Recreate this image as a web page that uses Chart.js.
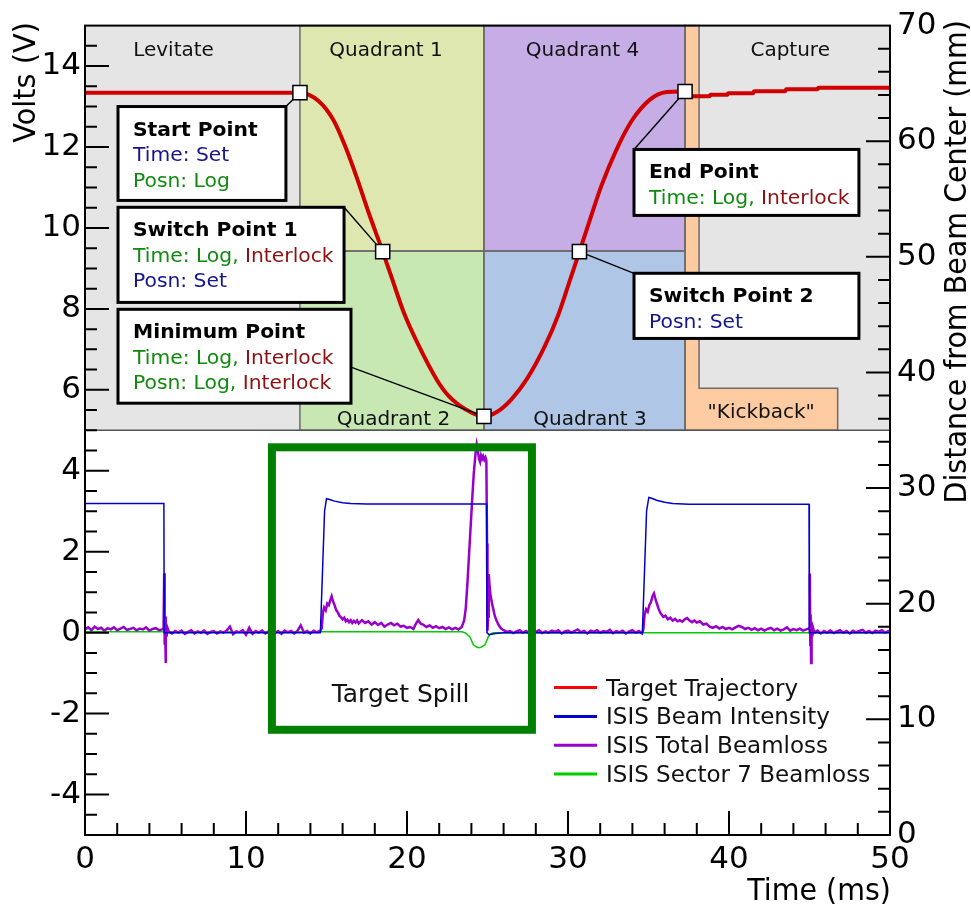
<!DOCTYPE html>
<html lang="en">
<head>
<meta charset="UTF-8">
<title>Target trajectory and ISIS beam</title>
<script src="https://cdn.jsdelivr.net/npm/chart.js@4"></script>
<style>
    html, body { margin: 0; padding: 0; background: #fff; }
    canvas { display: block; }
</style>
</head>
<body>
<canvas id="chart" width="971" height="905"></canvas>
<script>
// ---- values ----
// target trajectory: [time ms, distance from beam centre mm] (right axis)
const trajectory = [
    [0, 64.2], [13.35, 64.2], [14.49, 63.5], [15.42, 61.85], [16.15, 59.6], [16.87, 56.9],
    [17.6, 53.9], [18.49, 50.45], [19.05, 48.2], [19.77, 45.3], [20.7, 42.4], [21.84, 39.4],
    [22.57, 38.0], [23.71, 36.75], [24.78, 36.2], [25.6, 36.6], [26.5, 37.7], [27.43, 39.4],
    [28.57, 42.3], [29.4, 45.0], [30.02, 47.55], [30.71, 50.45], [31.37, 53.25], [32.09, 56.2],
    [33.02, 59.3], [33.95, 61.75], [35.09, 63.6], [36.13, 64.25], [36.96, 64.3], [37.27, 64.3],
    [37.5, 64.1], [37.78, 63.9], [38.8, 63.9], [38.85, 64.02], [39.9, 64.02], [39.95, 64.15],
    [41.5, 64.15], [41.55, 64.33], [43.5, 64.33], [43.55, 64.5], [45.5, 64.5], [45.55, 64.62],
    [50, 64.62]
];

// control points on the trajectory
const pointNames = ['Start Point', 'Switch Point 1', 'Minimum Point', 'Switch Point 2', 'End Point'];
const pointTime = [13.35, 18.49, 24.78, 30.71, 37.27];
const pointPos = [64.2, 50.45, 36.2, 50.45, 64.3];
const pointNotes = [
    [[['Time: Set', 'set']], [['Posn: Log', 'log']]],
    [[['Time: Log, ', 'log'], ['Interlock', 'lock']], [['Posn: Set', 'set']]],
    [[['Time: Log, ', 'log'], ['Interlock', 'lock']], [['Posn: Log, ', 'log'], ['Interlock', 'lock']]],
    [[['Posn: Set', 'set']]],
    [[['Time: Log, ', 'log'], ['Interlock', 'lock']]]
];

// ISIS beam intensity [ms, V]
const beamIntensity = [
    [0, 3.19], [4.9, 3.19], [4.92, 0], [14.62, 0], [14.75, 1.5], [14.88, 3.0], [15.0, 3.31],
    [15.2, 3.29], [15.5, 3.25], [16.0, 3.21], [16.5, 3.19], [17.5, 3.18], [24.95, 3.18],
    [24.97, 0], [25.1, -0.05], [25.5, -0.02], [26.0, 0], [34.62, 0], [34.75, 1.5],
    [34.88, 3.0], [35.02, 3.34], [35.2, 3.32], [35.5, 3.27], [36.0, 3.22], [36.5, 3.19],
    [37.5, 3.17], [44.97, 3.17], [44.99, 0], [50, 0]
];

// ISIS total beamloss [ms, V]
const totalLoss = [
    [0, 0.08], [0.2, 0.13], [0.4, 0.06], [0.6, 0.15], [0.8, 0.09], [1.0, 0.12], [1.2, 0.05],
    [1.4, 0.11], [1.6, 0.08], [1.8, 0.13], [2.0, 0.06], [2.2, 0.10], [2.4, 0.14], [2.6, 0.07],
    [2.8, 0.09], [3.0, 0.12], [3.2, 0.06], [3.4, 0.10], [3.6, 0.08], [3.8, 0.13], [4.0, 0.05],
    [4.2, 0.09], [4.4, 0.11], [4.6, 0.06], [4.8, 0.08],
    [4.88, 0.10], [4.92, 1.47], [4.95, -0.30], [4.97, 0.40], [5.0, -0.75], [5.03, 0.25],
    [5.07, -0.10], [5.12, 0.12],
    [5.2, 0.03], [5.4, -0.02], [5.6, 0.04], [5.8, 0.00], [6.0, 0.05], [6.2, -0.03], [6.4, 0.02],
    [6.6, 0.06], [6.8, -0.02], [7.0, 0.03], [7.2, 0.00], [7.4, 0.05], [7.6, -0.03], [7.8, 0.02],
    [8.0, 0.04], [8.2, -0.02], [8.4, 0.03], [8.6, 0.00], [8.8, 0.05], [9.0, 0.15], [9.2, -0.04],
    [9.4, 0.03], [9.6, 0.01], [9.8, 0.06], [10.0, -0.05], [10.2, 0.12], [10.4, -0.03],
    [10.6, 0.04], [10.8, 0.00], [11.0, 0.05], [11.2, -0.02], [11.4, 0.03], [11.6, 0.06],
    [11.8, -0.01], [12.0, 0.04], [12.2, -0.03], [12.4, 0.05], [12.6, 0.01], [12.8, 0.04],
    [13.0, -0.02], [13.2, 0.05], [13.4, 0.18], [13.6, 0.00], [13.8, 0.04], [14.0, -0.02],
    [14.2, 0.05], [14.4, 0.01], [14.6, 0.04],
    [14.7, 0.10], [14.78, 0.50], [14.85, 0.62], [14.95, 0.55], [15.05, 0.72], [15.15, 0.68],
    [15.25, 0.82], [15.32, 0.90], [15.4, 0.78], [15.5, 0.68], [15.6, 0.56], [15.7, 0.50],
    [15.8, 0.42], [15.9, 0.38], [16.0, 0.33], [16.1, 0.37], [16.2, 0.28], [16.3, 0.32],
    [16.4, 0.26], [16.5, 0.31], [16.6, 0.24], [16.7, 0.29], [16.8, 0.25], [16.9, 0.30],
    [17.0, 0.23], [17.2, 0.31], [17.4, 0.24], [17.6, 0.28], [17.8, 0.20], [18.0, 0.26],
    [18.2, 0.19], [18.4, 0.24], [18.6, 0.15], [18.8, 0.20], [19.0, 0.24], [19.2, 0.18],
    [19.4, 0.22], [19.6, 0.15], [19.8, 0.17], [20.0, 0.12], [20.2, 0.14], [20.4, 0.09],
    [20.55, 0.22], [20.7, 0.31], [20.85, 0.22], [21.0, 0.20], [21.2, 0.14], [21.4, 0.18],
    [21.6, 0.12], [21.8, 0.16], [22.0, 0.11], [22.2, 0.14], [22.4, 0.09], [22.6, 0.13],
    [22.8, 0.08], [23.0, 0.12], [23.2, 0.08], [23.4, 0.14],
    [23.55, 0.30], [23.65, 0.60], [23.75, 1.20], [23.85, 1.90], [23.95, 2.60], [24.05, 3.30],
    [24.15, 3.95], [24.25, 4.40], [24.33, 4.65], [24.4, 4.50], [24.47, 4.30], [24.54, 4.22],
    [24.6, 4.38], [24.67, 4.30], [24.73, 4.36], [24.8, 4.27], [24.87, 4.33], [24.93, 4.25],
    [24.97, 2.20], [25.0, 0.05], [25.04, 0.40], [25.08, 1.45], [25.12, 1.20], [25.18, 0.95],
    [25.25, 0.78], [25.35, 0.60], [25.45, 0.42], [25.56, 0.30], [25.7, 0.18], [25.85, 0.10],
    [26.0, 0.06], [26.2, 0.02],
    [26.4, 0.04], [26.6, -0.01], [26.8, 0.03], [27.0, 0.06], [27.2, 0.00], [27.4, 0.04],
    [27.6, -0.02], [27.8, 0.05], [28.0, 0.02], [28.2, 0.06], [28.4, -0.01], [28.6, 0.03],
    [28.8, 0.00], [29.0, 0.05], [29.2, 0.02], [29.4, 0.06], [29.6, -0.02], [29.8, 0.03],
    [30.0, 0.05], [30.2, 0.00], [30.4, 0.04], [30.6, 0.08], [30.8, 0.01], [31.0, 0.04],
    [31.2, -0.02], [31.4, 0.05], [31.6, 0.02], [31.8, 0.06], [32.0, 0.00], [32.2, 0.04],
    [32.4, 0.02], [32.6, 0.07], [32.8, -0.01], [33.0, 0.04], [33.2, 0.01], [33.4, 0.05],
    [33.6, -0.02], [33.8, 0.03], [34.0, 0.06], [34.2, 0.00], [34.4, 0.04], [34.6, -0.02],
    [34.68, 0.08], [34.76, 0.45], [34.85, 0.58], [34.95, 0.52], [35.05, 0.68], [35.15, 0.75],
    [35.25, 0.90], [35.34, 0.97], [35.42, 0.85], [35.52, 0.72], [35.62, 0.60], [35.72, 0.50],
    [35.82, 0.44], [35.92, 0.39], [36.05, 0.42], [36.2, 0.33], [36.35, 0.37], [36.5, 0.30],
    [36.65, 0.34], [36.8, 0.28], [36.95, 0.31], [37.1, 0.27], [37.25, 0.33], [37.4, 0.36],
    [37.55, 0.30], [37.7, 0.26], [37.85, 0.30], [38.0, 0.25], [38.2, 0.28], [38.4, 0.20],
    [38.6, 0.22], [38.8, 0.15], [39.0, 0.12], [39.2, 0.16], [39.4, 0.10], [39.6, 0.14],
    [39.8, 0.09], [40.0, 0.12], [40.2, 0.08], [40.4, 0.13], [40.6, 0.17], [40.8, 0.14],
    [41.0, 0.09], [41.2, 0.12], [41.4, 0.07], [41.6, 0.11], [41.8, 0.06], [42.0, 0.10],
    [42.2, 0.05], [42.4, 0.09], [42.6, 0.12], [42.8, 0.06], [43.0, 0.10], [43.2, 0.05],
    [43.4, 0.08], [43.6, 0.13], [43.8, 0.05], [44.0, 0.09], [44.2, 0.06], [44.4, 0.10],
    [44.6, 0.05], [44.8, 0.08], [44.95, 0.10],
    [45.0, 0.12], [45.02, 1.46], [45.05, -0.30], [45.07, 0.45], [45.1, -0.75], [45.13, 0.25],
    [45.17, -0.10], [45.22, 0.12],
    [45.3, 0.00], [45.5, 0.05], [45.7, -0.02], [45.9, 0.04], [46.1, 0.00], [46.3, 0.05],
    [46.5, -0.01], [46.7, 0.03], [46.9, 0.06], [47.1, 0.00], [47.3, 0.04], [47.5, -0.02],
    [47.7, 0.05], [47.9, 0.01], [48.1, 0.04], [48.3, 0.07], [48.5, 0.00], [48.7, 0.04],
    [48.9, -0.01], [49.1, 0.05], [49.3, 0.02], [49.5, 0.06], [49.7, 0.00], [49.9, 0.04],
    [50.0, 0.02]
];

// ISIS sector 7 beamloss [ms, V]
const sectorLoss = [
    [0, 0.02], [23.4, 0.02], [23.6, 0.0], [23.9, -0.1], [24.12, -0.3], [24.3, -0.35],
    [24.43, -0.37], [24.6, -0.36], [24.85, -0.3], [25.0, -0.15], [25.05, -0.1], [25.2, -0.03],
    [25.36, 0.0], [50, 0.0]
];

const seriesLabels = ['Target Trajectory', 'ISIS Beam Intensity', 'ISIS Total Beamloss', 'ISIS Sector 7 Beamloss'];
const timeTicks = [0, 10, 20, 30, 40, 50];
const voltTicks = [-4, -2, 0, 2, 4, 6, 8, 10, 12, 14];
const mmTicks = [0, 10, 20, 30, 40, 50, 60, 70];

// ---- drawing helpers ----
const FONT = "'DejaVu Sans'";
const noteColours = { set: '#15158c', log: '#0e8a0e', lock: '#8e1111' };

function txt(ctx, s, x, y, o) {
    ctx.save();
    ctx.translate(x, y);
    if (o.rot) ctx.rotate(o.rot);
    ctx.scale(o.sx || 1, 1);
    ctx.font = o.font;
    ctx.fillStyle = o.color || '#000';
    ctx.textAlign = o.align || 'left';
    ctx.textBaseline = 'alphabetic';
    ctx.fillText(s, 0, 0);
    ctx.restore();
}

const toXY = pairs => pairs.map(([x, y]) => ({ x, y }));

// phases of the target cycle, in ms and volts of the top panel
const phases = [
    { name: 'Levitate', t0: 0, t1: 13.35, v0: 5, v1: 15, fill: '#e5e5e5', lt: 5.5, lv: 14.26 },
    { name: 'Capture', t0: 38.14, t1: 50, v0: 5, v1: 15, fill: '#e5e5e5', lt: 43.8, lv: 14.26 },
    { name: 'Quadrant 1', t0: 13.35, t1: 24.78, v0: 9.43, v1: 15, fill: '#dee7b0', lt: 18.7, lv: 14.26 },
    { name: 'Quadrant 2', t0: 13.35, t1: 24.78, v0: 5, v1: 9.43, fill: '#c7e7b3', lt: 19.16, lv: 5.12 },
    { name: 'Quadrant 4', t0: 24.78, t1: 37.27, v0: 9.43, v1: 15, fill: '#c6ade5', lt: 30.9, lv: 14.26 },
    { name: 'Quadrant 3', t0: 24.78, t1: 37.27, v0: 5, v1: 9.43, fill: '#afc6e7', lt: 31.37, lv: 5.12 }
];
const kickback = [[37.27, 15], [38.14, 15], [38.14, 6.04], [46.75, 6.04], [46.75, 5], [37.27, 5]];

// annotation boxes (ms / volts) and where their leader line starts
const noteBoxes = [
    { t0: 2.05, t1: 12.48, v0: 13.0, v1: 10.68, at: [12.48, 13.0] },
    { t0: 2.05, t1: 16.09, v0: 10.51, v1: 8.16, at: [16.09, 10.51] },
    { t0: 2.05, t1: 16.52, v0: 7.99, v1: 5.67, at: [16.52, 6.56] },
    { t0: 34.1, t1: 48.07, v0: 8.88, v1: 7.27, at: [34.1, 8.88] },
    { t0: 34.1, t1: 48.07, v0: 11.94, v1: 10.31, at: [34.1, 11.94] }
];

const decor = {
    id: 'decor',
    beforeDraw(chart) {
        const ctx = chart.ctx;
        ctx.save();
        ctx.fillStyle = '#fff';
        ctx.fillRect(0, 0, chart.width, chart.height);
        ctx.restore();
    },
    beforeDatasetsDraw(chart) {
        const { ctx, chartArea: a, scales: { x, y } } = chart;
        const X = t => x.getPixelForValue(t), Y = v => y.getPixelForValue(v);
        ctx.save();
        phases.forEach(p => {
            ctx.fillStyle = p.fill;
            ctx.fillRect(X(p.t0), Y(p.v1), X(p.t1) - X(p.t0), Y(p.v0) - Y(p.v1));
        });
        ctx.beginPath();
        kickback.forEach(([t, v], i) => i ? ctx.lineTo(X(t), Y(v)) : ctx.moveTo(X(t), Y(v)));
        ctx.closePath();
        ctx.fillStyle = '#fdcba1';
        ctx.fill();
        ctx.lineWidth = 1.5;
        ctx.strokeStyle = '#6b6b6b';
        ctx.stroke();
        phases.slice(2).forEach(p => {
            ctx.strokeRect(X(p.t0), Y(p.v1), X(p.t1) - X(p.t0), Y(p.v0) - Y(p.v1));
        });
        ctx.strokeStyle = '#555';
        ctx.beginPath();
        ctx.moveTo(a.left, Y(5));
        ctx.lineTo(a.right, Y(5));
        ctx.stroke();
        phases.forEach(p => {
            txt(ctx, p.name, X(p.lt), Y(p.lv), { font: '20px ' + FONT, align: 'center', color: '#111' });
        });
        txt(ctx, '"Kickback"', X(42.0), Y(5.3), { font: '20px ' + FONT, align: 'center', color: '#111' });
        ctx.restore();
    },
    afterDatasetDraw(chart, args) {
        // leader lines sit above the trajectory but under the point markers
        if (args.index !== 0) return;
        const { ctx, scales: { x, y, y2 } } = chart;
        ctx.save();
        ctx.strokeStyle = '#000';
        ctx.lineWidth = 1.4;
        noteBoxes.forEach((b, i) => {
            const x0 = x.getPixelForValue(b.at[0]), y0 = y.getPixelForValue(b.at[1]);
            const x1 = x.getPixelForValue(pointTime[i]), y1 = y2.getPixelForValue(pointPos[i]);
            ctx.beginPath();
            ctx.moveTo(x0, y0);
            ctx.lineTo(x1, y1);
            ctx.stroke();
        });
        ctx.restore();
    },
    afterDatasetsDraw(chart) {
        const { ctx, chartArea: a, scales: { x, y } } = chart;
        const X = t => x.getPixelForValue(t), Y = v => y.getPixelForValue(v);
        const noteFont = '20.3px ' + FONT;
        ctx.save();
        // annotation boxes
        noteBoxes.forEach((b, i) => {
            const bx = X(b.t0), by = Y(b.v0), bw = X(b.t1) - bx, bh = Y(b.v1) - by;
            ctx.fillStyle = '#fff';
            ctx.fillRect(bx, by, bw, bh);
            ctx.lineWidth = 3;
            ctx.strokeStyle = '#000';
            ctx.strokeRect(bx, by, bw, bh);
            const tx = bx + 15;
            let ty = by + 29;
            txt(ctx, pointNames[i], tx, ty, { font: 'bold ' + noteFont });
            pointNotes[i].forEach(line => {
                ty += 25.5;
                let cx = tx;
                line.forEach(([s, kind]) => {
                    ctx.font = noteFont;
                    txt(ctx, s, cx, ty, { font: noteFont, color: noteColours[kind] });
                    cx += ctx.measureText(s).width;
                });
            });
        });
        // target spill box
        ctx.lineWidth = 8;
        ctx.strokeStyle = '#008000';
        ctx.strokeRect(X(11.61), Y(4.58), X(27.76) - X(11.61), Y(-2.4) - Y(4.58));
        txt(ctx, 'Target Spill', X(19.6), Y(-1.72), { font: '25px ' + FONT, align: 'center', color: '#111' });
        // legend
        const lx = a.left + 469, ly = a.top + 662;
        chart.data.datasets.slice(0, 4).forEach((ds, i) => {
            const yy = ly + i * 28.8;
            ctx.strokeStyle = i === 0 ? '#ff0000' : ds.borderColor;
            ctx.lineWidth = 3;
            ctx.beginPath();
            ctx.moveTo(lx, yy);
            ctx.lineTo(lx + 43, yy);
            ctx.stroke();
            txt(ctx, ds.label, lx + 52, yy + 8, { font: '23px ' + FONT, color: '#111' });
        });
        ctx.restore();
    },
    afterDraw(chart) {
        const { ctx, chartArea: a, scales: { x, y, y2 } } = chart;
        ctx.save();
        ctx.strokeStyle = '#000';
        ctx.lineWidth = 2;
        ctx.beginPath();
        for (let i = 1; i < 25; i++) {
            const t = 2 * i, p = x.getPixelForValue(t);
            ctx.moveTo(p, a.bottom);
            ctx.lineTo(p, a.bottom - (t % 10 === 0 ? 24 : 12));
        }
        for (let i = 1; i < 40; i++) {
            const v = -5 + 0.5 * i, p = y.getPixelForValue(v);
            ctx.moveTo(a.left, p);
            ctx.lineTo(a.left + (v % 2 === 0 ? 24 : 12), p);
        }
        for (let i = 1; i < 35; i++) {
            const mm = 2 * i, p = y2.getPixelForValue(mm);
            ctx.moveTo(a.right, p);
            ctx.lineTo(a.right - (mm % 10 === 0 ? 24 : 12), p);
        }
        ctx.stroke();
        ctx.strokeRect(a.left, a.top, a.right - a.left, a.bottom - a.top);
        // axis titles
        const f = '31px ' + FONT;
        txt(ctx, 'Volts (V)', 35, 22, { font: f, rot: -Math.PI / 2, sx: 0.93, align: 'right' });
        txt(ctx, 'Distance from Beam Center (mm)', 966, 20, { font: f, rot: -Math.PI / 2, sx: 0.92, align: 'right' });
        txt(ctx, 'Time (ms)', a.right + 1, 900, { font: f, sx: 0.92, align: 'right' });
        ctx.restore();
    }
};

const tickFont = { family: 'DejaVu Sans', size: 31 };

new Chart(document.getElementById('chart'), {
    type: 'line',
    data: {
        datasets: [
            {
                label: seriesLabels[0], data: toXY(trajectory), yAxisID: 'y2',
                borderColor: '#d00000', borderWidth: 4, pointRadius: 0,
                cubicInterpolationMode: 'monotone'
            },
            {
                label: seriesLabels[1], data: toXY(beamIntensity), yAxisID: 'y',
                borderColor: '#0000cc', borderWidth: 1.5, pointRadius: 0
            },
            {
                label: seriesLabels[2], data: toXY(totalLoss), yAxisID: 'y',
                borderColor: '#9900cc', borderWidth: 2.5, pointRadius: 0
            },
            {
                label: seriesLabels[3], data: toXY(sectorLoss), yAxisID: 'y',
                borderColor: '#00cc00', borderWidth: 1.5, pointRadius: 0
            },
            {
                label: 'points', data: pointTime.map((t, i) => ({ x: t, y: pointPos[i] })), yAxisID: 'y2',
                showLine: false, pointStyle: 'rect', pointRadius: 10,
                pointBackgroundColor: '#fff', pointBorderColor: '#000', pointBorderWidth: 1.5,
                order: -1, clip: false
            }
        ]
    },
    options: {
        responsive: false,
        devicePixelRatio: 1,
        animation: false,
        events: [],
        layout: { padding: { top: 25, left: 0, right: 0, bottom: 0 } },
        plugins: { legend: { display: false }, tooltip: { enabled: false } },
        scales: {
            x: {
                type: 'linear', min: 0, max: 50,
                grid: { display: false, drawTicks: false }, border: { display: false },
                ticks: { font: tickFont, color: '#000', padding: 6, autoSkip: false, maxRotation: 0 },
                afterBuildTicks: s => { s.ticks = timeTicks.map(v => ({ value: v })); },
                afterFit: s => { s.height = 70; }
            },
            y: {
                type: 'linear', position: 'left', min: -5, max: 15,
                grid: { display: false, drawTicks: false }, border: { display: false },
                ticks: { font: tickFont, color: '#000', padding: 4, autoSkip: false },
                afterBuildTicks: s => { s.ticks = voltTicks.map(v => ({ value: v })); },
                afterFit: s => { s.width = 85; }
            },
            y2: {
                type: 'linear', position: 'right', min: 0, max: 70,
                grid: { display: false, drawTicks: false }, border: { display: false },
                ticks: { font: tickFont, color: '#000', padding: 7, autoSkip: false },
                afterBuildTicks: s => { s.ticks = mmTicks.map(v => ({ value: v })); },
                afterFit: s => { s.width = 81; }
            }
        }
    },
    plugins: [decor]
});
</script>
</body>
</html>
